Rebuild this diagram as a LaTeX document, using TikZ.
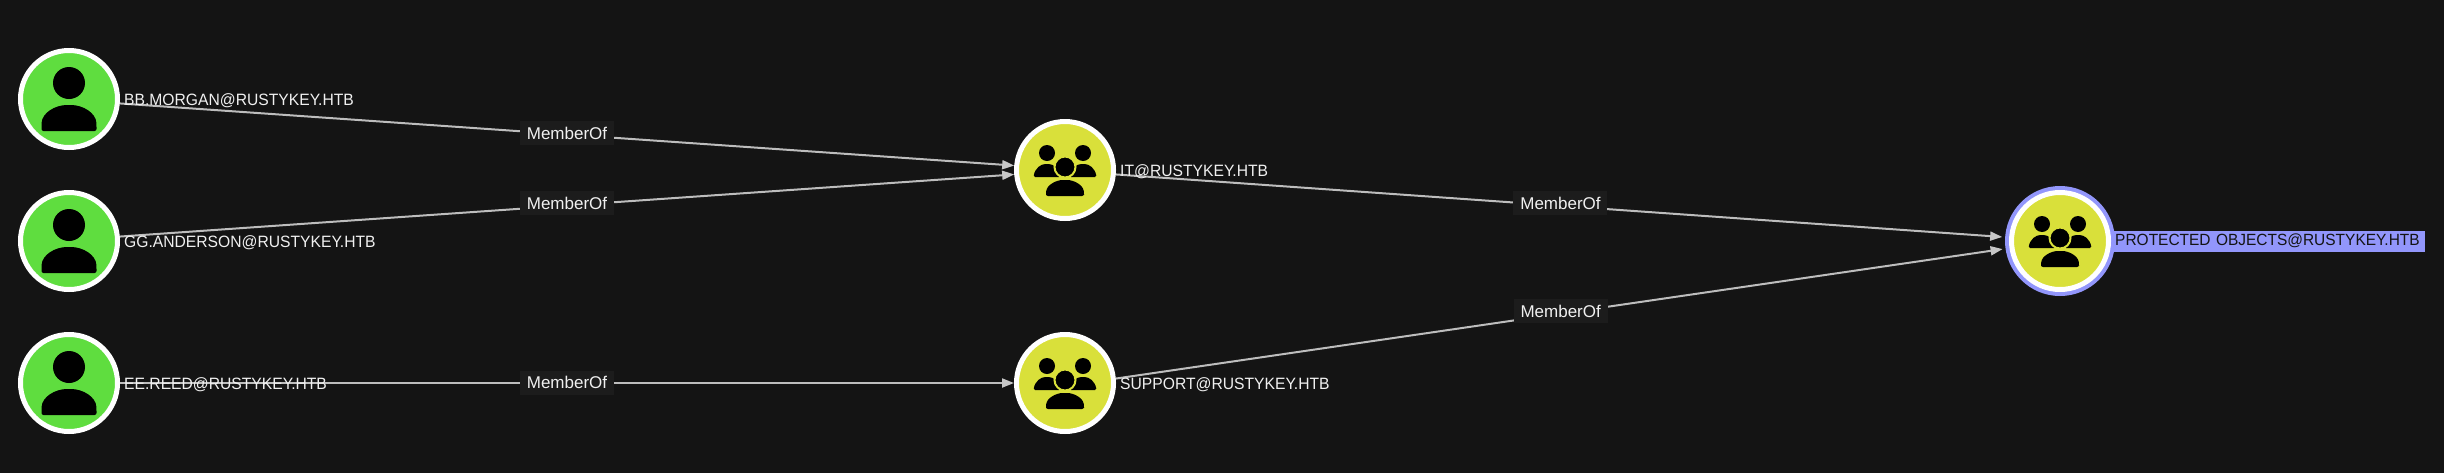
\documentclass[tikz,border=0pt]{standalone}
\usepackage{fontspec}
\setmainfont{Liberation Sans}
\newfontfamily\namefont[FakeStretch=0.955]{Liberation Sans}
\usetikzlibrary{positioning,arrows.meta}
\definecolor{bgdark}{HTML}{141414}
\definecolor{usergreen}{HTML}{5FDD3F}
\definecolor{groupyellow}{HTML}{D9E03A}
\definecolor{ringblue}{HTML}{9296FB}
\definecolor{edgegrey}{HTML}{BDBDBD}
\definecolor{tagdark}{HTML}{1C1C1C}
\tikzset{
  usernode/.style={circle,draw=white,fill=usergreen,line width=5pt,minimum size=97pt,inner sep=0pt},
  groupnode/.style={usernode,fill=groupyellow},
  ringnode/.style={circle,draw=ringblue,line width=5pt,minimum size=105pt,inner sep=0pt},
  namelabel/.style={text=white!94!black,font=\namefont\fontsize{16.4}{18}\selectfont,inner sep=0pt,right=4pt of #1,yshift=-1.5pt},
  edgelabel/.style={fill=tagdark,text=white!94!black,font=\fontsize{17}{18}\selectfont,minimum width=94pt,minimum height=24pt,inner sep=0pt,yshift=2.5pt},
  memberedge/.style={draw=edgegrey,line width=2pt,-{Triangle[length=12pt,width=9pt,color=white!78!black]}},
  usericon/.pic={
    \fill[black] (0,-16) circle (16);
    \fill[black,rounded corners=2pt] (-27.5,32) -- (-27.5,26) .. controls (-27,14) and (-14,6) .. (0,6)
      .. controls (14,6) and (27,14) .. (27.5,26) -- (27.5,32) -- cycle;
  },
  groupicon/.pic={
    \foreach \sx in {-18,18} {
      \fill[black] (\sx,-17) circle (8);
      \fill[black,rounded corners=1.5pt] (\sx-13.5,7) .. controls (\sx-12,-2) and (\sx-6,-6) .. (\sx,-6)
        .. controls (\sx+6,-6) and (\sx+12,-2) .. (\sx+13.5,7) -- cycle;
    }
    \fill[black,draw=groupyellow,line width=2pt] (0,-3) circle (10.5);
    \fill[black,rounded corners=2pt] (-19,26) -- (-19,23) .. controls (-18,15) and (-9,10) .. (0,10)
      .. controls (9,10) and (18,15) .. (19,23) -- (19,26) -- cycle;
  }
}
\begin{document}
\begin{tikzpicture}[x=1pt,y=-1pt]
  \useasboundingbox (0,0) rectangle (2444,472);
  \fill[bgdark] (-3,-3) rectangle (2447,475);

  \node[usernode] (bbmorgan) at (69,99) {};
  \node[usernode] (gganderson) at (69,241) {};
  \node[usernode] (eereed) at (69,383) {};
  \node[groupnode] (itgroup) at (1065,170) {};
  \node[groupnode] (supportgroup) at (1065,383) {};
  \node[ringnode] (protectedring) at (2060,241) {};
  \node[groupnode] (protectedgroup) at (2060,241) {};

  \foreach \nodename in {bbmorgan,gganderson,eereed}
    \pic at (\nodename) {usericon};
  \foreach \nodename in {itgroup,supportgroup,protectedgroup}
    \pic at (\nodename) {groupicon};

  \draw[memberedge] (bbmorgan.-5) -- node[edgelabel,yshift=-1pt] {MemberOf} (itgroup.175);
  \draw[memberedge] (gganderson.5) -- node[edgelabel] {MemberOf} (itgroup.185);
  \draw[memberedge] (eereed.east) -- node[edgelabel,yshift=-2pt] {MemberOf} (supportgroup.west);
  \draw[memberedge,shorten >=3pt] (itgroup.-5) -- node[edgelabel] {MemberOf} (protectedring.176);
  \draw[memberedge,shorten >=3pt] (supportgroup.5) -- node[edgelabel] {MemberOf} (protectedring.188);

  \node[namelabel=bbmorgan] (bbname) {BB.MORGAN@RUSTYKEY.HTB};
  \node[namelabel=gganderson] (ggname) {GG.ANDERSON@RUSTYKEY.HTB};
  \node[namelabel=eereed] (eename) {EE.REED@RUSTYKEY.HTB};
  \node[namelabel=itgroup] (itname) {IT@RUSTYKEY.HTB};
  \node[namelabel=supportgroup] (supportname) {SUPPORT@RUSTYKEY.HTB};
  \node[right=-2pt of protectedring,fill=ringblue,text=bgdark,font=\namefont\fontsize{16.2}{18}\selectfont,
    text width=308pt,inner xsep=2pt,align=left,minimum height=21pt,inner ysep=0pt] (protectedname) {PROTECTED OBJECTS@RUSTYKEY.HTB};
\end{tikzpicture}
\end{document}
